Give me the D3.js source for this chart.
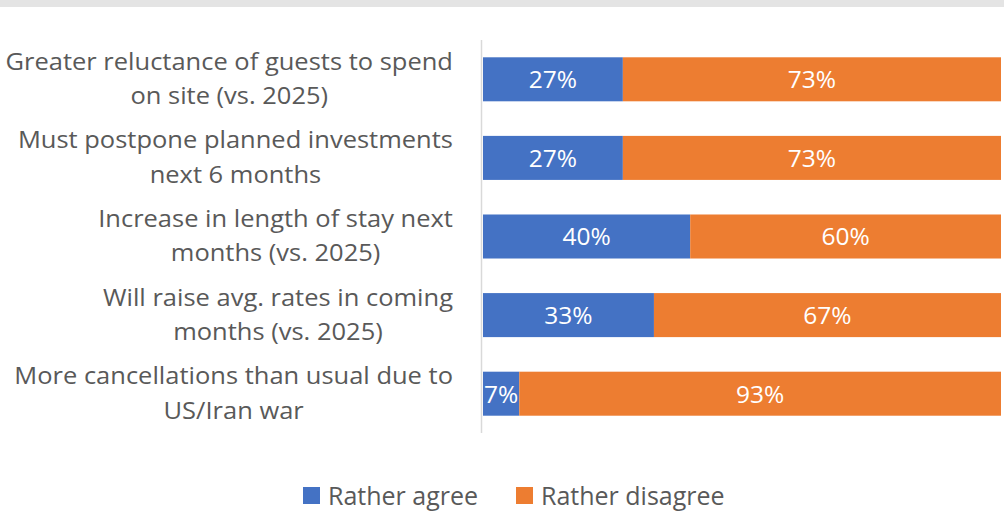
<!DOCTYPE html>
<html>
<head>
<meta charset="utf-8">
<script src="https://cdn.jsdelivr.net/npm/d3@7"></script>
<style>
  html, body { margin: 0; padding: 0; background: #fff; }
  svg { display: block; }
  text { font-family: "Open Sans", "Noto Sans", sans-serif; }
</style>
</head>
<body>
<svg id="chart" width="1004" height="532"></svg>
<script>
// Survey statements, one per bar (each wrapped onto two lines)
const categories = [
  ["Greater reluctance of guests to spend", "on site (vs. 2025)"],
  ["Must postpone planned investments", "next 6 months"],
  ["Increase in length of stay next", "months (vs. 2025)"],
  ["Will raise avg. rates in coming", "months (vs. 2025)"],
  ["More cancellations than usual due to", "US/Iran war"]
];
const seriesNames = ["Rather agree", "Rather disagree"];
const agree    = [27, 27, 40, 33, 7];
const disagree = [73, 73, 60, 67, 93];
const colors = ["#4472c4", "#ed7d31"];

const svg = d3.select("#chart");
const W = 1004;

// thin grey band along the top edge
svg.append("rect").attr("x", 0).attr("y", 0).attr("width", W).attr("height", 7).attr("fill", "#e4e4e4");

const plot = { left: 483, right: 1001, top: 40, bottom: 433 };

const x = d3.scaleLinear().domain([0, 100]).range([plot.left, plot.right]);
const y = d3.scaleBand()
  .domain(d3.range(categories.length))
  .range([plot.top, plot.bottom])
  .paddingInner(0.44)
  .paddingOuter(0.22);

const rows = categories.map((c, i) => ({ i, values: [agree[i], disagree[i]] }));
const stack = d3.stack().keys([0, 1]).value((d, k) => d.values[k]);
const layers = stack(rows);

const g = svg.append("g");
layers.forEach((layer, k) => {
  g.append("g").attr("fill", colors[k])
    .selectAll("rect").data(layer).join("rect")
    .attr("x", d => x(d[0]))
    .attr("y", d => y(d.data.i))
    .attr("width", d => x(d[1]) - x(d[0]))
    .attr("height", y.bandwidth());
});
layers.forEach((layer, k) => {
  g.append("g").selectAll("text").data(layer).join("text")
    .attr("x", d => (x(d[0]) + x(d[1])) / 2)
    .attr("y", d => y(d.data.i) + y.bandwidth() / 2)
    .attr("dy", "0.36em")
    .attr("text-anchor", "middle")
    .attr("fill", "#fff")
    .attr("font-size", 24.5)
    .text(d => d.data.values[k] + "%");
});

// category axis line
svg.append("line")
  .attr("x1", plot.left - 1.5).attr("x2", plot.left - 1.5)
  .attr("y1", plot.top).attr("y2", plot.bottom)
  .attr("stroke", "#d9d9d9").attr("stroke-width", 1.5);

// wrapped category labels
const labels = svg.append("g");
categories.forEach((lines, i) => {
  const cy = y(i) + y.bandwidth() / 2;
  const t = labels.append("text")
    .attr("text-anchor", "middle")
    .attr("fill", "#595959")
    .attr("font-size", 24);
  lines.forEach((ln, j) => {
    t.append("tspan")
      .attr("x", 0)
      .attr("y", cy + (j - (lines.length - 1) / 2) * 34.5)
      .attr("dy", "0.32em")
      .text(ln);
  });
});
// centre each label block, widen it slightly and right-align it to the axis
const labelStretch = 1.062;
labels.selectAll("text").each(function() {
  const bb = this.getBBox();
  const right = 453;
  d3.select(this).attr("transform",
    `translate(${right - bb.width * labelStretch / 2},0) scale(${labelStretch},1)`);
});

// legend
const legend = svg.append("g");
const lgItems = [{ x: 303, name: seriesNames[0], c: colors[0] }, { x: 516, name: seriesNames[1], c: colors[1] }];
lgItems.forEach(it => {
  legend.append("rect").attr("x", it.x).attr("y", 487).attr("width", 17).attr("height", 17).attr("fill", it.c);
  legend.append("text").attr("x", it.x + 25).attr("y", 495.5).attr("dy", "0.36em")
    .attr("fill", "#595959").attr("font-size", 25).text(it.name);
});
</script>
</body>
</html>
